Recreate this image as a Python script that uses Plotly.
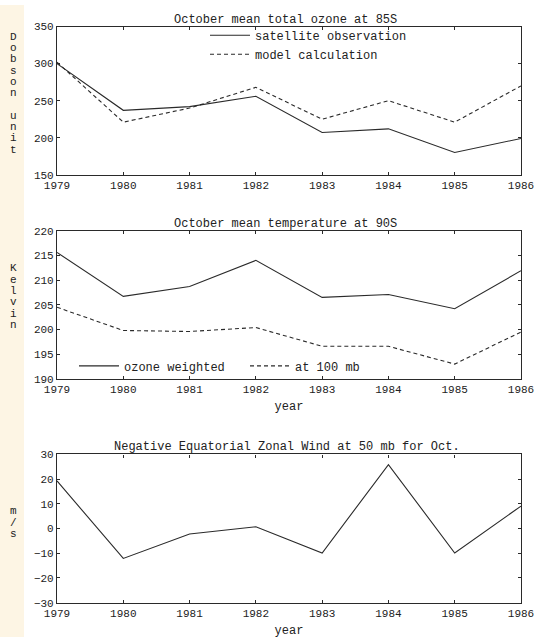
import plotly.graph_objects as go

years = [1979, 1980, 1981, 1982, 1983, 1984, 1985, 1986]

ozone_satellite = [300, 237, 242, 256, 207, 212, 180, 199]
ozone_model = [302, 221, 240, 268, 225, 250, 221, 270]

temp_ozone_weighted = [215.6, 206.7, 208.7, 214.0, 206.5, 207.1, 204.2, 211.9]
temp_100mb = [204.5, 199.8, 199.6, 200.4, 196.6, 196.6, 193.0, 199.5]

wind_neg_equatorial = [19.3, -12.1, -2.2, 0.7, -9.9, 25.9, -9.9, 9.1]

titles = ["October mean total ozone at 85S",
          "October mean temperature at 90S",
          "Negative Equatorial Zonal Wind at 50 mb for Oct."]
ylabels = ["Dobson unit", "Kelvin", "m/s"]

W, H = 538, 644
ML, MR = 57, 17
PW = W - ML - MR
FONT = "Liberation Mono"
LC = "#2a2a2a"

def px_x(p):
    return (p - ML) / PW

def px_y(p):
    return 1 - p / H

# panel pixel extents (top, bottom)
panels = [(22, 173), (230, 381), (458, 609)]

fig = go.Figure()

fig.add_trace(go.Scatter(x=years, y=ozone_satellite, mode="lines", name="satellite observation",
                         line=dict(color=LC, width=1.1), xaxis="x", yaxis="y", legend="legend"))
fig.add_trace(go.Scatter(x=years, y=ozone_model, mode="lines", name="model calculation",
                         line=dict(color=LC, width=1.1, dash="4px,3px"), xaxis="x", yaxis="y", legend="legend"))
fig.add_trace(go.Scatter(x=years, y=temp_ozone_weighted, mode="lines", name="ozone weighted",
                         line=dict(color=LC, width=1.1), xaxis="x2", yaxis="y2", legend="legend2"))
fig.add_trace(go.Scatter(x=years, y=temp_100mb, mode="lines", name="at 100 mb",
                         line=dict(color=LC, width=1.1, dash="4px,3px"), xaxis="x2", yaxis="y2", legend="legend2"))
fig.add_trace(go.Scatter(x=years, y=wind_neg_equatorial, mode="lines", name="wind",
                         line=dict(color=LC, width=1.1), xaxis="x3", yaxis="y3", showlegend=False))

yranges = [[150, 350], [190, 220], [-30, 30]]
ydticks = [50, 5, 10]

axis_common = dict(showline=True, linecolor=LC, linewidth=1.2, mirror="ticks",
                   ticks="inside", ticklen=3, tickcolor=LC, showgrid=False, zeroline=False,
                   tickfont=dict(family=FONT, size=11, color="#222"))

layout = dict(width=W, height=H, margin=dict(l=ML, r=MR, t=0, b=0),
              paper_bgcolor="white", plot_bgcolor="white", showlegend=True,
              font=dict(family=FONT, color="#222"))

for i, (top, bot) in enumerate(panels):
    sfx = "" if i == 0 else str(i + 1)
    xa = dict(axis_common, range=[1979, 1986], tickvals=years, anchor="y" + sfx,
              domain=[0, 1])
    if i > 0:
        xa["title"] = dict(text="year", font=dict(family=FONT, size=12), standoff=6)
    ya = dict(axis_common, range=yranges[i], dtick=ydticks[i], anchor="x" + sfx,
              domain=[px_y(bot), px_y(top)])
    layout["xaxis" + sfx] = xa
    layout["yaxis" + sfx] = ya

layout["legend"] = dict(x=px_x(205), y=px_y(16), xanchor="left", yanchor="top",
                        bgcolor="rgba(0,0,0,0)", font=dict(family=FONT, size=12, color="#222"),
                        tracegroupgap=0, itemwidth=40)
layout["legend2"] = dict(x=px_x(74), y=px_y(353), xanchor="left", yanchor="top",
                         orientation="h", bgcolor="rgba(0,0,0,0)", entrywidth=116,
                         font=dict(family=FONT, size=12, color="#222"), itemwidth=40)

annotations = []
title_x = [173, 173, 113]
for i, (top, bot) in enumerate(panels):
    annotations.append(dict(text=titles[i], xref="paper", yref="paper",
                            x=px_x(title_x[i]), y=px_y(top), xanchor="left", yanchor="bottom",
                            showarrow=False, font=dict(family=FONT, size=12, color="#222"),
                            borderpad=0, yshift=-1))

# stacked vertical y-axis labels
label_starts = [32.5, 268.5, 516]
spacing = 11.5
for i, lab in enumerate(ylabels):
    for j, ch in enumerate(lab):
        if ch == " ":
            continue
        annotations.append(dict(text=ch, xref="paper", yref="paper",
                                x=px_x(13), y=px_y(label_starts[i] + j * spacing),
                                xanchor="center", yanchor="middle", showarrow=False,
                                font=dict(family=FONT, size=11, color="#222")))
layout["annotations"] = annotations

# scanned-page margin strip on the left
layout["shapes"] = [dict(type="rect", xref="paper", yref="paper", x0=px_x(0), x1=px_x(24),
                         y0=0, y1=1, fillcolor="#fdf5e4", line=dict(width=0), layer="below")]

fig.update_layout(**layout)
fig.write_html("out.html")
